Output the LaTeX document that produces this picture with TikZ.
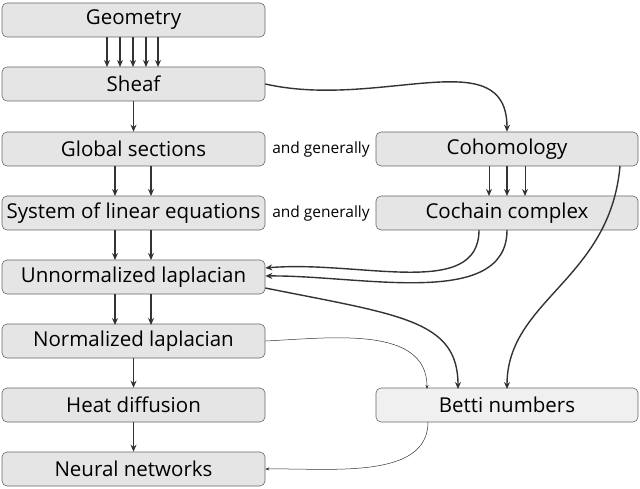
\documentclass[tikz,border=0pt]{standalone}
\usepackage{fontspec}
\setmainfont{Open Sans}
\usetikzlibrary{arrows.meta}
\begin{document}
\begin{tikzpicture}[x=1pt,y=-1pt,
 box/.style={draw=black!60,fill=black!10,rounded corners=5pt,minimum width=263pt,minimum height=34pt,inner sep=0pt,font=\fontsize{20.5}{22}\selectfont,line width=0.6pt},
 lbl/.style={font=\fontsize{15.5}{17}\selectfont,inner sep=0pt},
 ar/.style={-{Stealth[length=7pt,width=6pt]},line width=1.4pt,draw=black!80},
 thin/.style={-{Stealth[length=4pt,width=3pt]},line width=0.5pt,draw=black!80}]
\useasboundingbox (0,0) rectangle (640,489);
\node[box] (geo) at (133.5,20) {Geometry};
\node[box] (sheaf) at (133.5,84) {Sheaf};
\node[box] (glob) at (133.5,149) {Global sections};
\node[box] (sys) at (133.5,213) {System of linear equations};
\node[box] (un) at (133.5,277) {Unnormalized laplacian};
\node[box] (nor) at (133.5,341) {Normalized laplacian};
\node[box] (heat) at (133.5,405) {Heat diffusion};
\node[box] (nn) at (133.5,469) {Neural networks};
\node[box,minimum width=262pt] (coh) at (507,149) {Cohomology};
\node[box,minimum width=262pt] (coc) at (507,213) {Cochain complex};
\node[box,minimum width=262pt,fill=black!6] (betti) at (507,405) {Betti numbers};
\node[lbl] (g1) at (321,149) {and generally};
\node[lbl] (g2) at (321,213) {and generally};
\foreach \x in {107,120,133,146,158} \draw[ar] (\x,37) -- (\x,67);
\draw[ar] (sheaf) -- (glob);
\foreach \x in {115,151} {\draw[ar] (\x,166) -- (\x,196); \draw[ar] (\x,230) -- (\x,260); \draw[ar] (\x,294) -- (\x,325);}
\draw[ar] (nor) -- (heat);
\draw[ar] (heat) -- (nn);
\draw[ar,line width=1pt] (489,166) -- (489,196);
\draw[ar] (507,166) -- (507,196);
\draw[ar,line width=1pt] (525,166) -- (525,196);
\draw[ar] (sheaf.east) .. controls (380,110) and (507,40) .. (coh.north);
\draw[ar] (479,230) .. controls (479,300) and (360,260) .. (un.east |- 0,268);
\draw[ar] (507,230) .. controls (507,310) and (360,275) .. (un.east |- 0,276);
\draw[ar] (un.east |- 0,288) .. controls (400,315) and (458,320) .. (458,389);
\draw[ar] (620,166) .. controls (610,280) and (507,300) .. (507,389);
\draw[thin] (nor.east) .. controls (330,338) and (427,325) .. (427,389);
\draw[thin] (428,422) .. controls (428,480) and (330,468) .. (nn.east);
\end{tikzpicture}
\end{document}
